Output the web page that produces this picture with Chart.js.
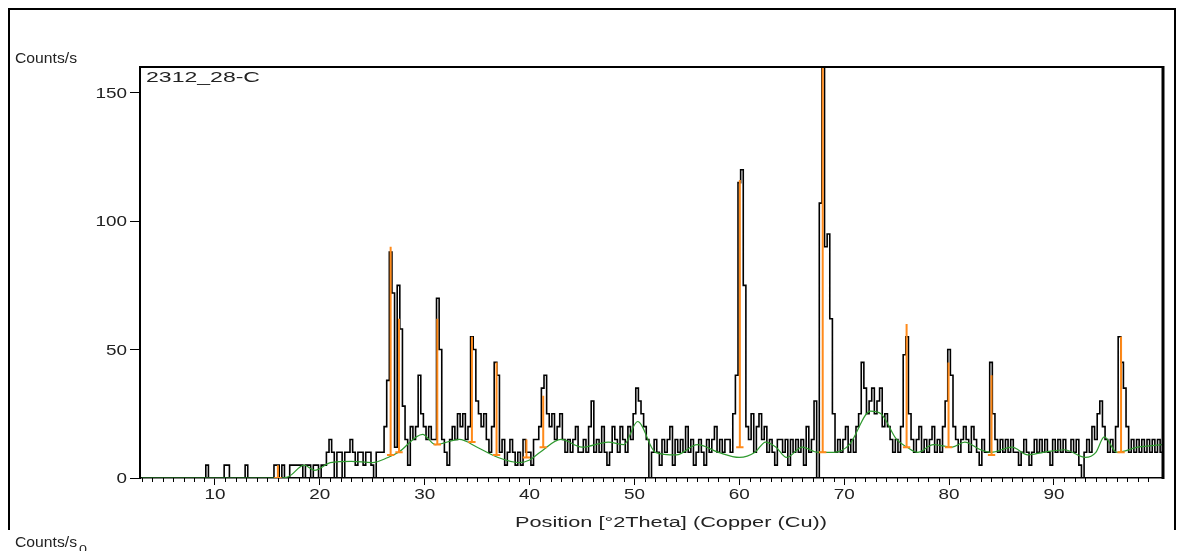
<!DOCTYPE html>
<html>
<head>
<meta charset="utf-8">
<title>2312_28-C</title>
<script src="https://cdn.jsdelivr.net/npm/chart.js@4.4.1/dist/chart.umd.min.js"></script>
<style>
  html, body { margin: 0; padding: 0; background: #fff; }
  #wrap { position: relative; width: 1183px; height: 551px; }
</style>
</head>
<body>
<div id="wrap"><canvas id="xrd" width="1183" height="551"></canvas></div>
<script>
// ── Data ─────────────────────────────────────────────────────────────────────
// Scan grid: first angle and step (°2Theta)
const scanStart = 3.0;
const scanStep  = 0.25;

// Measured counts/s, four values per degree (d, d+.25, d+.5, d+.75)
const counts = [
  0, 0, 0, 0,      // 3
  0, 0, 0, 0,      // 4
  0, 0, 0, 0,      // 5
  0, 0, 0, 0,      // 6
  0, 0, 0, 0,      // 7
  0, 0, 0, 0,      // 8
  0, 5, 0, 0,      // 9
  0, 0, 0, 0,      // 10
  5, 5, 0, 0,      // 11
  0, 0, 0, 0,      // 12
  5, 0, 0, 0,      // 13
  0, 0, 0, 0,      // 14
  0, 0, 0, 5,      // 15
  5, 0, 5, 0,      // 16
  0, 5, 5, 5,      // 17
  5, 5, 0, 5,      // 18
  5, 0, 5, 5,      // 19
  0, 5, 5, 10,     // 20
  15, 10, 0, 10,   // 21
  10, 0, 10, 10,   // 22
  15, 10, 5, 10,   // 23
  10, 5, 10, 10,   // 24
  5, 0, 10, 10,    // 25
  10, 20, 38, 88,  // 26
  72, 12, 75, 58,  // 27
  28, 15, 5, 20,   // 28
  15, 20, 40, 25,  // 29
  20, 15, 20, 15,  // 30
  15, 70, 50, 15,  // 31
  10, 5, 15, 20,   // 32
  15, 25, 20, 25,  // 33
  15, 20, 55, 50,  // 34
  30, 25, 20, 25,  // 35
  15, 10, 20, 45,  // 36
  40, 10, 15, 5,   // 37
  10, 15, 10, 5,   // 38
  10, 5, 15, 10,   // 39
  10, 5, 15, 15,   // 40
  20, 35, 40, 25,  // 41
  20, 25, 15, 20,  // 42
  25, 15, 10, 15,  // 43
  10, 15, 20, 10,  // 44
  10, 15, 10, 20,  // 45
  30, 10, 15, 10,  // 46
  20, 10, 5, 10,   // 47
  20, 15, 10, 20,  // 48
  15, 10, 20, 15,  // 49
  25, 35, 30, 25,  // 50
  20, 15, 0, 10,   // 51
  15, 10, 5, 15,   // 52
  10, 15, 20, 5,   // 53
  15, 10, 15, 10,  // 54
  20, 10, 15, 5,   // 55
  10, 15, 10, 5,   // 56
  15, 10, 15, 20,  // 57
  10, 15, 10, 15,  // 58
  15, 10, 25, 40,  // 59
  115, 120, 75, 20,// 60
  15, 25, 10, 20,  // 61
  25, 15, 20, 10,  // 62
  15, 10, 5, 15,   // 63
  15, 10, 15, 5,   // 64
  15, 10, 15, 10,  // 65
  15, 5, 20, 10,   // 66
  15, 30, 0, 107,  // 67
  160, 90, 95, 62, // 68
  25, 10, 15, 10,  // 69
  15, 20, 10, 15,  // 70
  10, 20, 25, 45,  // 71
  35, 25, 30, 35,  // 72
  25, 30, 35, 20,  // 73
  25, 20, 15, 10,  // 74
  15, 10, 20, 48,  // 75
  55, 25, 15, 10,  // 76
  15, 20, 10, 15,  // 77
  10, 15, 20, 10,  // 78
  15, 10, 20, 30,  // 79
  50, 40, 20, 15,  // 80
  10, 15, 20, 15,  // 81
  10, 20, 15, 10,  // 82
  5, 15, 10, 10,   // 83
  45, 25, 15, 10,  // 84
  15, 10, 15, 10,  // 85
  15, 10, 10, 5,   // 86
  10, 15, 10, 5,   // 87
  10, 15, 10, 15,  // 88
  10, 15, 10, 5,   // 89
  15, 10, 15, 10,  // 90
  15, 10, 10, 15,  // 91
  10, 15, 5, 0,    // 92
  10, 15, 10, 20,  // 93
  15, 25, 30, 20,  // 94
  15, 10, 15, 10,  // 95
  20, 55, 45, 35,  // 96
  20, 10, 15, 10,  // 97
  15, 10, 15, 10,  // 98
  15, 10, 15, 10,  // 99
  15, 10, 15, 10   // 100
];

// Fitted background (green)
const bgPos = [3, 16, 17, 18.5, 19.5, 21, 23, 25, 26.5, 27.5, 29.8, 31, 33.3, 35, 37, 39, 40, 41,
               43, 45, 47.5, 49, 50.3, 52, 54, 56, 58, 60, 61.5, 62.5, 63.5, 64.5, 66, 67.5, 69,
               70.5, 72.5, 73.5, 75, 76, 77, 78.5, 80.3, 81.5, 83, 84, 86, 87.5, 89, 91, 93, 94,
               94.8, 96, 98, 100.4];
const bgVal = [0, 0, 0.5, 5, 3, 6, 6.5, 6, 8, 10, 17, 13, 15, 12, 8, 6, 7, 10,
               15, 12, 14, 13, 22, 10, 9, 13, 10, 8, 10, 14, 12, 8, 12, 10, 10,
               13, 26, 25, 15, 12, 10, 13, 12, 14, 11, 10, 12, 9, 10, 11, 8, 10,
               16, 10, 12, 13];

// Reference pattern sticks (orange): position, base, top
const refPos  = [16.0, 26.75, 27.55, 31.2, 34.5, 36.85, 39.7, 41.3, 60.05, 67.95, 75.95, 79.95, 84.05, 96.4];
const refBase = [0, 9, 10, 13, 14, 9, 8, 12, 12, 10, 12, 12, 9, 10];
const refTop  = [5, 90, 62, 62, 55, 45, 15, 32, 116, 160, 60, 45, 40, 55];

// Axes
const xMin = 2.85, xMax = 100.4;
const yMin = 0, yMax = 160;
const xTickVals = [10, 20, 30, 40, 50, 60, 70, 80, 90];
const yTickVals = [0, 50, 100, 150];

const FONT = '"Liberation Sans", Arial, sans-serif';
const TEXT = '#222';

// ── Build datasets ───────────────────────────────────────────────────────────
const scanPoints = counts.map((c, i) => ({ x: scanStart + i * scanStep, y: c }));
const bgPoints   = bgPos.map((p, i) => ({ x: p, y: bgVal[i] }));

const stickPoints = [];
refPos.forEach((p, i) => {
  stickPoints.push({ x: p - 0.35, y: refBase[i] }, { x: p + 0.35, y: refBase[i] }, { x: NaN, y: null });
  stickPoints.push({ x: p, y: refBase[i] }, { x: p, y: refTop[i] }, { x: NaN, y: null });
});

// ── Text helpers ─────────────────────────────────────────────────────────────
// the original uses a wide screen font, so text is stretched sideways
function wideText(ctx, text, x, y, align, scaleX) {
  ctx.save();
  ctx.translate(x, y);
  ctx.scale(scaleX, 1);
  ctx.textAlign = align;
  ctx.fillText(text, 0, 0);
  ctx.restore();
}

function fitText(ctx, text, x, y, align, width) {
  const w = ctx.measureText(text).width;
  wideText(ctx, text, x, y, align, width / w);
}

// ── Plugins ──────────────────────────────────────────────────────────────────
// minor x ticks, frame lines, tick labels and page texts
const decorations = {
  id: 'decorations',
  afterDraw(chart) {
    const { ctx, chartArea: a, scales: { x, y } } = chart;
    ctx.save();
    ctx.strokeStyle = '#000';

    // minor ticks
    ctx.lineWidth = 1;
    for (let d = Math.ceil(xMin); d <= xMax; d++) {
      if (d % 10 === 0) continue;
      const px = Math.round(x.getPixelForValue(d)) + 0.5;
      ctx.beginPath();
      ctx.moveTo(px, a.bottom);
      ctx.lineTo(px, a.bottom + 4);
      ctx.stroke();
    }

    // plot frame
    ctx.lineWidth = 2;
    ctx.beginPath();
    ctx.moveTo(a.left, a.bottom);
    ctx.lineTo(a.left, a.top);
    ctx.lineTo(a.right, a.top);
    ctx.stroke();
    ctx.lineWidth = 3;
    ctx.beginPath();
    ctx.moveTo(a.right, a.top - 1);
    ctx.lineTo(a.right, a.bottom + 1);
    ctx.stroke();

    // outer page frame
    ctx.lineWidth = 2;
    ctx.beginPath();
    ctx.moveTo(9, 530);
    ctx.lineTo(9, 9);
    ctx.lineTo(1175, 9);
    ctx.lineTo(1175, 530);
    ctx.stroke();

    // tick labels
    ctx.fillStyle = TEXT;
    ctx.font = '14px ' + FONT;
    ctx.textBaseline = 'alphabetic';
    xTickVals.forEach(v => wideText(ctx, String(v), x.getPixelForValue(v), 499, 'center', 1.35));
    yTickVals.forEach(v => wideText(ctx, String(v), 127, y.getPixelForValue(v) + 5, 'right', 1.35));

    // texts
    fitText(ctx, 'Counts/s', 15, 63, 'left', 62);
    fitText(ctx, '2312_28-C', 146, 82, 'left', 114);
    fitText(ctx, 'Position [°2Theta] (Copper (Cu))', 515, 527, 'left', 312);
    fitText(ctx, 'Counts/s', 15, 547, 'left', 62);
    ctx.font = '11px ' + FONT;
    wideText(ctx, '0', 79, 553, 'left', 1.3);
    ctx.restore();
  }
};

// ── Chart ────────────────────────────────────────────────────────────────────
const ctx = document.getElementById('xrd').getContext('2d');

new Chart(ctx, {
  type: 'line',
  data: {
    datasets: [
      {
        label: 'Scan',
        data: scanPoints,
        borderColor: '#000',
        borderWidth: 1.6,
        pointRadius: 0,
        stepped: 'middle',
        order: 3,
      },
      {
        label: 'Background',
        data: bgPoints,
        borderColor: '#2f9a2f',
        borderWidth: 1.2,
        pointRadius: 0,
        cubicInterpolationMode: 'monotone',
        order: 2,
      },
      {
        label: 'Reference',
        data: stickPoints,
        borderColor: '#ff8a1a',
        borderWidth: 2,
        pointRadius: 0,
        spanGaps: false,
        order: 1,
      },
    ],
  },
  options: {
    responsive: false,
    animation: false,
    layout: { padding: { left: 0, top: 67, right: 20, bottom: 0 } },
    plugins: {
      legend: { display: false },
      tooltip: { enabled: false },
    },
    scales: {
      x: {
        type: 'linear',
        min: xMin,
        max: xMax,
        afterBuildTicks: scale => {
          scale.ticks = xTickVals.map(v => ({ value: v }));
        },
        afterFit: scale => { scale.height = 73; },
        border: { display: true, color: '#000', width: 1.5 },
        grid: { drawOnChartArea: false, drawTicks: true, tickLength: 7, color: '#000', lineWidth: 1 },
        ticks: { display: false },
      },
      y: {
        min: yMin,
        max: yMax,
        afterBuildTicks: scale => {
          scale.ticks = yTickVals.map(v => ({ value: v }));
        },
        afterFit: scale => { scale.width = 140; },
        border: { display: true, color: '#000', width: 2 },
        grid: { drawOnChartArea: false, drawTicks: true, tickLength: 10, color: '#000', lineWidth: 1 },
        ticks: { display: false },
      },
    },
  },
  plugins: [decorations],
});
</script>
</body>
</html>
